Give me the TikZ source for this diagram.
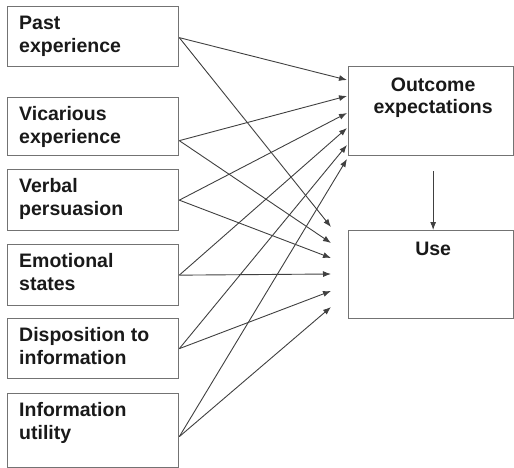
\documentclass[tikz,border=0pt]{standalone}
\usepackage{fontspec}
\setmainfont{Liberation Sans}
\usetikzlibrary{arrows.meta}
\begin{document}
\begin{tikzpicture}[x=1pt,y=-1pt,
  box/.style={draw=black!55, line width=1.3pt, anchor=north west, inner sep=0pt, minimum width=171pt},
  lbl/.style={anchor=north west, align=left, inner sep=0pt, xshift=12pt, yshift=-9.5pt,
    font=\fontsize{19.5}{23}\selectfont\bfseries, text=black!90},
  clbl/.style={anchor=north, align=center, inner sep=0pt, xshift=2pt, yshift=-11.5pt,
    font=\fontsize{19.5}{22}\selectfont\bfseries, text=black!90},
  arr/.style={draw=black!75, line width=0.9pt, -{Latex[length=8pt,width=6pt]}}]
\useasboundingbox (0,0) rectangle (514,468);
\node[box, minimum height=60pt, label={[lbl]north west:{Past\\experience}}] (past) at (7,6) {};
\node[box, minimum height=58pt, label={[lbl]north west:{Vicarious\\experience}}] (vic) at (7,97) {};
\node[box, minimum height=61pt, label={[lbl]north west:{Verbal\\persuasion}}] (verb) at (7,169) {};
\node[box, minimum height=61pt, label={[lbl]north west:{Emotional\\states}}] (emo) at (7,244) {};
\node[box, minimum height=60pt, label={[lbl]north west:{Disposition to\\information}}] (disp) at (7,318) {};
\node[box, minimum height=74pt, label={[lbl]north west:{Information\\utility}}] (info) at (7,393) {};
\node[box, minimum width=165pt, minimum height=89pt, label={[clbl]north:{Outcome\\expectations}}] (out) at (348,66) {};
\node[box, minimum width=165pt, minimum height=88pt, label={[clbl]north:{Use}}] (use) at (348,230) {};
\coordinate (o1) at (347,80);
\coordinate (o2) at (347,96);
\coordinate (o3) at (347,113);
\coordinate (o4) at (347,128);
\coordinate (o5) at (347,145);
\coordinate (o6) at (347,159);
\coordinate (u1) at (331,227);
\coordinate (u2) at (331,243);
\coordinate (u3) at (331,258);
\coordinate (u4) at (331,274);
\coordinate (u5) at (331,291);
\coordinate (u6) at (331,307);
\draw[arr] ([yshift=-1pt]past.east) -- (o1);
\draw[arr] ([yshift=-1pt]past.east) -- (u1);
\draw[arr] ([yshift=-14pt]vic.east) -- (o2);
\draw[arr] ([yshift=-14pt]vic.east) -- (u2);
\draw[arr] (verb.east) -- (o3);
\draw[arr] (verb.east) -- (u3);
\draw[arr] (emo.east) -- (o4);
\draw[arr] (emo.east) -- (u4);
\draw[arr] (disp.east) -- (o5);
\draw[arr] (disp.east) -- (u5);
\draw[arr] ([yshift=-6pt]info.east) -- (o6);
\draw[arr] ([yshift=-6pt]info.east) -- (u6);
\draw[arr] ([xshift=2pt,yshift=-15pt]out.south) -- ([xshift=2pt]use.north);
\end{tikzpicture}
\end{document}
